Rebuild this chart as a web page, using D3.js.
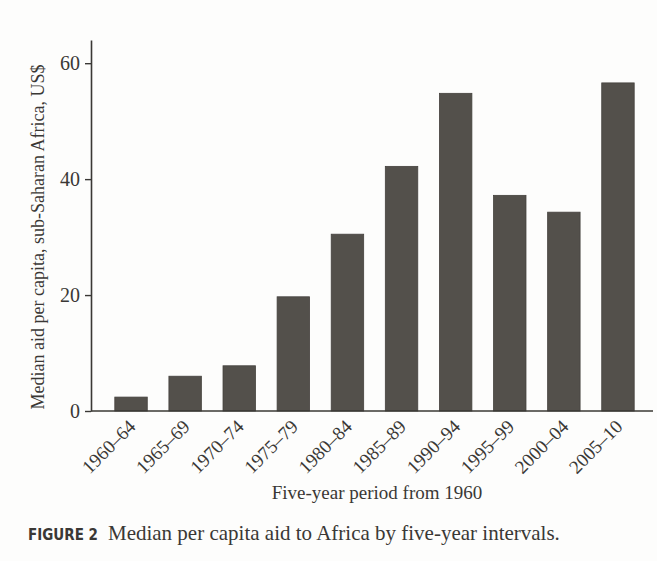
<!DOCTYPE html>
<html>
<head>
<meta charset="utf-8">
<script src="https://cdn.jsdelivr.net/npm/d3@7/dist/d3.min.js"></script>
<style>
  html, body { margin: 0; padding: 0; background: #fdfdfc; }
  svg { display: block; }
</style>
</head>
<body>
<svg id="chart" width="657" height="561"></svg>
<script>
const periods = ["1960–64","1965–69","1970–74","1975–79","1980–84","1985–89","1990–94","1995–99","2000–04","2005–10"];
const aidValues = [2.4, 6.0, 7.8, 19.7, 30.5, 42.2, 54.8, 37.2, 34.3, 56.6];
const yTicks = [0, 20, 40, 60];
const yTitle = "Median aid per capita, sub-Saharan Africa, US$";
const xTitle = "Five-year period from 1960";
const captionLabel = "FIGURE 2";
const captionText = "Median per capita aid to Africa by five-year intervals.";

const svg = d3.select("#chart");
const ink = "#3a3835";
const serif = "'Liberation Serif', 'Times New Roman', serif";

const x = d3.scaleBand().domain(periods).range([91, 658]).paddingInner(0.4).paddingOuter(0.44);
const y = d3.scaleLinear().domain([0, 64]).range([411, 40]);

// bars
svg.append("g").selectAll("rect").data(periods).join("rect")
  .attr("x", d => x(d))
  .attr("width", x.bandwidth())
  .attr("y", (d, i) => y(aidValues[i]))
  .attr("height", (d, i) => y(0) - y(aidValues[i]))
  .attr("fill", "#53504b")
  .attr("stroke", "#45423e")
  .attr("stroke-width", 0.8);

// y axis
const yAxis = svg.append("g").attr("transform", "translate(91,0)")
  .call(d3.axisLeft(y).tickValues(yTicks).tickSize(6).tickPadding(5).tickSizeOuter(0));
yAxis.select(".domain").attr("stroke", ink).attr("stroke-width", 1.6);
yAxis.selectAll(".tick line").attr("stroke", ink).attr("stroke-width", 1.4);
yAxis.selectAll(".tick text").attr("font-family", serif).attr("font-size", 20).attr("fill", ink);

// x axis (baseline)
svg.append("line")
  .attr("x1", 91).attr("x2", x.range()[1] - 5)
  .attr("y1", y(0)).attr("y2", y(0))
  .attr("stroke", ink).attr("stroke-width", 1.6);

// x tick labels
svg.append("g").selectAll("text").data(periods).join("text")
  .attr("transform", d => `translate(${x(d) + x.bandwidth() / 2 - 5},417) rotate(-45)`)
  .attr("dy", "0.8em")
  .attr("text-anchor", "end")
  .attr("font-family", serif).attr("font-size", 19).attr("fill", ink)
  .text(d => d);

// axis titles
svg.append("text")
  .attr("transform", "translate(44,237) rotate(-90)")
  .attr("text-anchor", "middle")
  .attr("font-family", serif).attr("font-size", 18).attr("fill", ink)
  .text(yTitle);

svg.append("text")
  .attr("x", 377).attr("y", 499)
  .attr("text-anchor", "middle")
  .attr("font-family", serif).attr("font-size", 19).attr("fill", ink)
  .text(xTitle);

// caption
const cap = svg.append("text").attr("x", 28).attr("y", 540).attr("fill", ink);
cap.append("tspan")
  .attr("font-family", "'Liberation Sans Narrow', 'DejaVu Sans Condensed', 'Liberation Sans', sans-serif")
  .attr("font-weight", "bold").attr("font-size", 15)
  .text(captionLabel);
cap.append("tspan")
  .attr("dx", 10)
  .attr("font-family", serif).attr("font-size", 21)
  .text(captionText);
</script>
</body>
</html>
